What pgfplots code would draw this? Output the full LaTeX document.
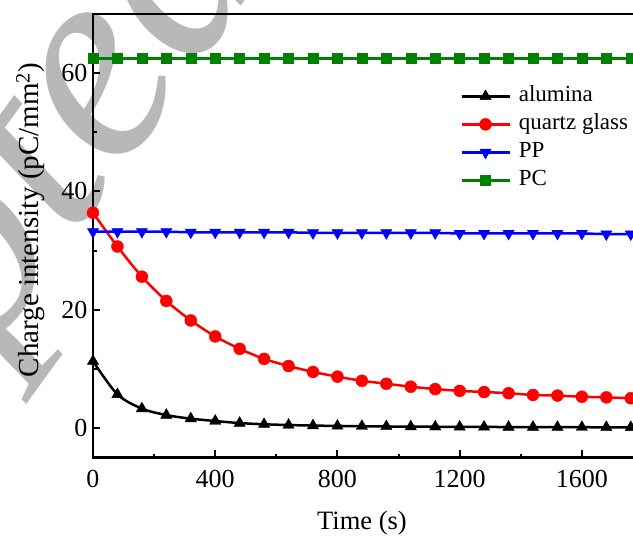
\documentclass[border=0pt]{standalone}
\usepackage{fontspec}
\setmainfont{Liberation Serif}
\usepackage{pgfplots}
\pgfplotsset{compat=1.18}

\definecolor{pcgreen}{RGB}{0,128,0}

% alumina
\pgfplotstableread{
t q
0 11.3
80 5.7
160 3.3
240 2.2
320 1.6
400 1.2
480 0.85
560 0.65
640 0.52
720 0.43
800 0.37
880 0.32
960 0.28
1040 0.25
1120 0.23
1200 0.21
1280 0.20
1360 0.18
1440 0.17
1520 0.16
1600 0.15
1680 0.14
1760 0.13
1800 0.12
}\alumina

% quartz glass
\pgfplotstableread{
t q
0 36.4
80 30.7
160 25.6
240 21.5
320 18.2
400 15.5
480 13.4
560 11.7
640 10.5
720 9.5
800 8.7
880 8.0
960 7.5
1040 7.0
1120 6.6
1200 6.3
1280 6.1
1360 5.9
1440 5.6
1520 5.5
1600 5.3
1680 5.2
1760 5.05
1800 5.0
}\quartz

% PP
\pgfplotstableread{
t q
0 33.2
80 33.2
160 33.2
240 33.2
320 33.1
400 33.1
480 33.1
560 33.1
640 33.1
720 33.0
800 33.0
880 33.0
960 33.0
1040 33.0
1120 33.0
1200 32.9
1280 32.9
1360 32.9
1440 32.9
1520 32.9
1600 32.9
1680 32.8
1760 32.8
1800 32.8
}\pp

% PC
\pgfplotstableread{
t q
0 62.5
80 62.5
160 62.5
240 62.5
320 62.5
400 62.5
480 62.5
560 62.5
640 62.5
720 62.5
800 62.5
880 62.5
960 62.5
1040 62.5
1120 62.5
1200 62.5
1280 62.5
1360 62.5
1440 62.5
1520 62.5
1600 62.5
1680 62.5
1760 62.5
1800 62.5
}\pc

\begin{document}
\begin{tikzpicture}[x=1pt,y=1pt]
\useasboundingbox (0,0) rectangle (633,536);
\begin{scope}
\clip (0,0) rectangle (633,536);
% background stamp
\node[rotate=54, anchor=base west, inner sep=0pt, text=black!28,
      font=\fontsize{284}{284}\selectfont\itshape] at (-337,-266) {Accepted};
\begin{axis}[
  at={(93pt,78.3pt)}, anchor=south west,
  scale only axis, width=550pt, height=443.7pt,
  xmin=0, xmax=1800, ymin=-5, ymax=70,
  xtick={0,400,800,1200,1600}, ytick={0,20,40,60},
  minor x tick num=1, minor y tick num=1,
  tick align=inside, xtick pos=left, ytick pos=left,
  major tick length=7.5pt, minor tick length=4pt,
  every tick/.append style={black, line width=2pt},
  axis line style={line width=2.5pt},
  clip=false,
  /pgf/number format/assume math mode=true,
  /pgf/number format/1000 sep={},
  ticklabel style={font=\fontsize{26}{26}\selectfont},
  yticklabel style={xshift=-2pt},
  xticklabel style={yshift=-9pt},
  xlabel={Time (s)},
  ylabel={Charge intensity (pC/mm\textsuperscript{2})},
  xlabel style={font=\fontsize{26.5}{26.5}\selectfont,
    at={(axis description cs:0.489,-0.161)}, anchor=base},
  ylabel style={font=\fontsize{29}{29}\selectfont,
    at={(axis description cs:-0.099,0.5357)}, anchor=base},
  legend cell align=left,
  legend style={at={(axis description cs:0.662,0.843)}, anchor=north west,
    draw=none, fill=none, font=\fontsize{23}{23}\selectfont,
    nodes={inner sep=0pt, text height=16pt, text depth=5pt},
    row sep=7pt, column sep=8pt},
  legend image code/.code={
    \draw[mark repeat=2, mark phase=2] plot coordinates {(0pt,0pt) (24pt,0pt) (48pt,0pt)};
  },
  every axis plot/.append style={line width=2.5pt},
]
\addplot[black, smooth, mark=triangle*, mark size=6.5pt, mark options={solid, line width=0.4pt}]
  table[x=t, y=q] {\alumina};
\addlegendentry{alumina}
\addplot[red, smooth, mark=*, mark size=6pt, mark options={solid, line width=0.4pt}]
  table[x=t, y=q] {\quartz};
\addlegendentry{quartz glass}
\addplot[blue, mark=triangle*, mark size=6.5pt, mark options={solid, rotate=180, line width=0.4pt}]
  table[x=t, y=q] {\pp};
\addlegendentry{PP}
\addplot[pcgreen, mark=square*, mark size=5pt, mark options={solid, line width=0.4pt}]
  table[x=t, y=q] {\pc};
\addlegendentry{PC}
\end{axis}
\end{scope}
\end{tikzpicture}
\end{document}
